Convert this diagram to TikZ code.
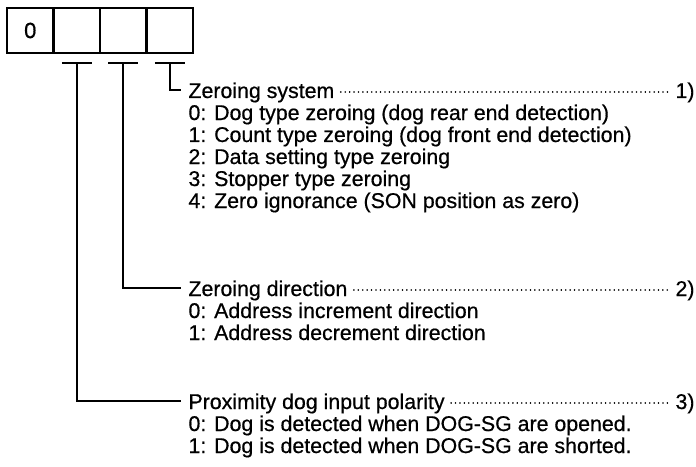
\documentclass[tikz,border=0pt]{standalone}
\usepackage{fontspec}
\setmainfont[FakeBold=0.6]{Liberation Sans}
\usetikzlibrary{positioning,calc}

\tikzset{every picture/.style={line width=0.75pt}}
\tikzset{
  cell/.style={draw,line width=1.5,minimum width=34.9pt,minimum height=33.75pt,inner sep=0pt,font=\fontsize{16.5}{18}\selectfont},
  txt/.style={anchor=base west,inner sep=0pt,font=\fontsize{16}{18}\selectfont},
  wire/.style={line width=1.5},
  leader/.style={line width=1.25pt,line cap=round,dash pattern=on 0.01pt off 3.3pt}
}

\begin{document}
\begin{tikzpicture}[x=0.75pt,y=0.75pt,yscale=-1,xscale=1]
\useasboundingbox (0,0) rectangle (696,467);

%Parameter digits
\node[cell] (c1) at (30.25,30.5) {0};
\node[cell] (c2) at (76.75,30.5) {};
\node[cell] (c3) at (123.25,30.5) {};
\node[cell] (c4) at (169.75,30.5) {};

% Text Node
\node[txt] (zs) at (188,98) {Zeroing system};
\node[txt,anchor=base east] (n1) at (695,98) {1)};
\node[txt] (zs0) at (188,120) {0: Dog type zeroing (dog rear end detection)};
\node[txt] (zs1) at (188,142) {1: Count type zeroing (dog front end detection)};
\node[txt] (zs2) at (188,164) {2: Data setting type zeroing};
\node[txt] (zs3) at (188,186) {3: Stopper type zeroing};
\node[txt] (zs4) at (188,208) {4: Zero ignorance (SON position as zero)};

% Text Node
\node[txt] (zd) at (188,296) {Zeroing direction};
\node[txt,anchor=base east] (n2) at (695,296) {2)};
\node[txt] (zd0) at (188,318) {0: Address increment direction};
\node[txt] (zd1) at (188,340) {1: Address decrement direction};

% Text Node
\node[txt] (pd) at (188,409) {Proximity dog input polarity};
\node[txt,anchor=base east] (n3) at (695,409) {3)};
\node[txt] (pd0) at (188,431) {0: Dog is detected when DOG-SG are opened.};
\node[txt] (pd1) at (188,453) {1: Dog is detected when DOG-SG are shorted.};

%Bars under the digits
\draw[wire] ($(c2.south)+(-15,9)$) -- ($(c2.south)+(15,9)$);
\draw[wire] ($(c3.south)+(-15,9)$) -- ($(c3.south)+(15,9)$);
\draw[wire] ($(c4.south)+(-15,9)$) -- ($(c4.south)+(15,9)$);

%Straight Lines
\draw[wire] ($(c4.south)+(0,9)$) |- ($(zs.base west)+(-7,-8)$);
\draw[wire] ($(c3.south)+(0,9)$) |- ($(zd.base west)+(-7,-8)$);
\draw[wire] ($(c2.south)+(0,9)$) |- ($(pd.base west)+(-7,-8)$);

%Leaders
\draw[leader] ($(zs.base east)+(6,-6)$) -- ($(n1.base west)+(-6,-6)$);
\draw[leader] ($(zd.base east)+(6,-6)$) -- ($(n2.base west)+(-6,-6)$);
\draw[leader] ($(pd.base east)+(6,-6)$) -- ($(n3.base west)+(-6,-6)$);

\end{tikzpicture}
\end{document}
